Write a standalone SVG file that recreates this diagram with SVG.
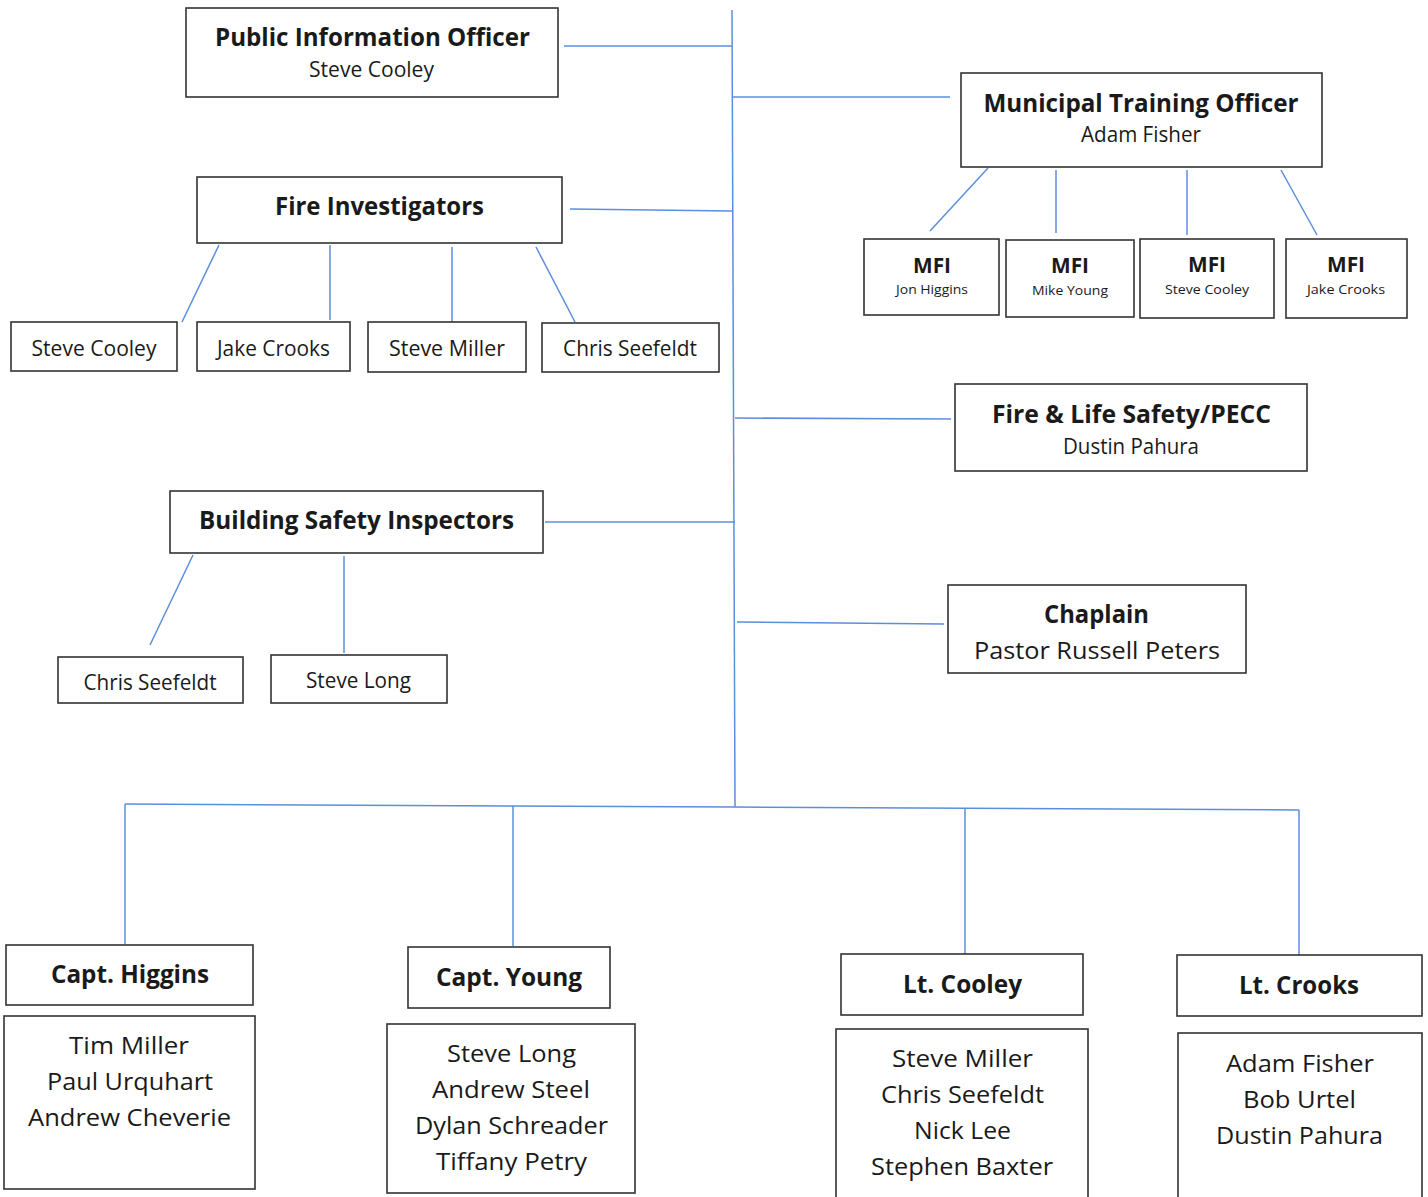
<svg xmlns="http://www.w3.org/2000/svg" width="1428" height="1197" viewBox="0 0 1428 1197">
<style>
.box{fill:#fff;stroke:#333;stroke-width:1.6}
.c{fill:none;stroke:#5a8fdc;stroke-width:1.5}
text{font-family:"Open Sans","Noto Sans","Liberation Sans",sans-serif;fill:#1a1a1a;text-anchor:middle}
.t{font-weight:bold;font-size:25px}
.s{font-size:21px}
.m{font-weight:bold;font-size:21px}
.n{font-size:13px}
.l{font-size:24px}
</style>
<rect width="1428" height="1197" fill="#fff"/>
<g id="connectors">
<path class="c" d="M732 10 L735 807"/>
<path class="c" d="M564 46 H732"/>
<path class="c" d="M732 97 H950"/>
<path class="c" d="M570 209 L732 211"/>
<path class="c" d="M735 418 L951 419"/>
<path class="c" d="M545 522 H735"/>
<path class="c" d="M737 622 L944 624"/>
<path class="c" d="M125 804 L735 807 L1299 810"/>
<path class="c" d="M125 804 V944"/>
<path class="c" d="M513 806 V946"/>
<path class="c" d="M965 808 V954"/>
<path class="c" d="M1299 810 V955"/>
<path class="c" d="M988 168 L930 231"/>
<path class="c" d="M1056 170 V233"/>
<path class="c" d="M1187 170 V235"/>
<path class="c" d="M1281 170 L1317 235"/>
<path class="c" d="M219 245 L182 322"/>
<path class="c" d="M330 245 V320"/>
<path class="c" d="M452 247 V322"/>
<path class="c" d="M536 247 L575 322"/>
<path class="c" d="M193 555 L150 645"/>
<path class="c" d="M344 556 V653"/>
</g>
<g id="pio"><rect class="box" x="186" y="8" width="372" height="89"/>
<text class="t" x="372.5" y="46" textLength="315" lengthAdjust="spacingAndGlyphs">Public Information Officer</text>
<text class="s" x="371.5" y="77" textLength="125" lengthAdjust="spacingAndGlyphs">Steve Cooley</text></g>
<g id="mto"><rect class="box" x="961" y="73" width="361" height="94"/>
<text class="t" x="1141" y="112" textLength="315" lengthAdjust="spacingAndGlyphs">Municipal Training Officer</text>
<text class="s" x="1141" y="142" textLength="120" lengthAdjust="spacingAndGlyphs">Adam Fisher</text></g>
<g id="mfi1"><rect class="box" x="864" y="239" width="135" height="76"/>
<text class="m" x="932" y="273" textLength="38" lengthAdjust="spacingAndGlyphs">MFI</text>
<text class="n" x="932" y="294" textLength="72" lengthAdjust="spacingAndGlyphs">Jon Higgins</text></g>
<g id="mfi2"><rect class="box" x="1006" y="240" width="128" height="77"/>
<text class="m" x="1070" y="273" textLength="38" lengthAdjust="spacingAndGlyphs">MFI</text>
<text class="n" x="1070" y="295" textLength="76" lengthAdjust="spacingAndGlyphs">Mike Young</text></g>
<g id="mfi3"><rect class="box" x="1140" y="239" width="134" height="79"/>
<text class="m" x="1207" y="272" textLength="38" lengthAdjust="spacingAndGlyphs">MFI</text>
<text class="n" x="1207" y="294" textLength="84" lengthAdjust="spacingAndGlyphs">Steve Cooley</text></g>
<g id="mfi4"><rect class="box" x="1286" y="239" width="121" height="79"/>
<text class="m" x="1346" y="272" textLength="38" lengthAdjust="spacingAndGlyphs">MFI</text>
<text class="n" x="1346" y="294" textLength="78" lengthAdjust="spacingAndGlyphs">Jake Crooks</text></g>
<g id="fi"><rect class="box" x="197" y="177" width="365" height="66"/>
<text class="t" x="379.5" y="215" textLength="209" lengthAdjust="spacingAndGlyphs">Fire Investigators</text></g>
<g id="fi1"><rect class="box" x="11" y="322" width="166" height="49"/>
<text class="s" x="94" y="356" textLength="125" lengthAdjust="spacingAndGlyphs">Steve Cooley</text></g>
<g id="fi2"><rect class="box" x="197" y="322" width="153" height="49"/>
<text class="s" x="273.5" y="356" textLength="113" lengthAdjust="spacingAndGlyphs">Jake Crooks</text></g>
<g id="fi3"><rect class="box" x="368" y="322" width="158" height="50"/>
<text class="s" x="447" y="356" textLength="116" lengthAdjust="spacingAndGlyphs">Steve Miller</text></g>
<g id="fi4"><rect class="box" x="542" y="323" width="177" height="49"/>
<text class="s" x="630" y="356" textLength="134" lengthAdjust="spacingAndGlyphs">Chris Seefeldt</text></g>
<g id="fls"><rect class="box" x="955" y="384" width="352" height="87"/>
<text class="t" x="1131.5" y="423" textLength="279" lengthAdjust="spacingAndGlyphs">Fire &amp; Life Safety/PECC</text>
<text class="s" x="1131" y="454" textLength="136" lengthAdjust="spacingAndGlyphs">Dustin Pahura</text></g>
<g id="bsi"><rect class="box" x="170" y="491" width="373" height="62"/>
<text class="t" x="356.5" y="529" textLength="315" lengthAdjust="spacingAndGlyphs">Building Safety Inspectors</text></g>
<g id="bsi1"><rect class="box" x="58" y="657" width="185" height="46"/>
<text class="s" x="150" y="690" textLength="133" lengthAdjust="spacingAndGlyphs">Chris Seefeldt</text></g>
<g id="bsi2"><rect class="box" x="271" y="655" width="176" height="48"/>
<text class="s" x="358.5" y="688" textLength="105" lengthAdjust="spacingAndGlyphs">Steve Long</text></g>
<g id="chaplain"><rect class="box" x="948" y="585" width="298" height="88"/>
<text class="t" x="1096.5" y="623" textLength="105" lengthAdjust="spacingAndGlyphs">Chaplain</text>
<text class="l" x="1097" y="659" textLength="246" lengthAdjust="spacingAndGlyphs">Pastor Russell Peters</text></g>
<g id="higgins"><rect class="box" x="6" y="945" width="247" height="60"/>
<text class="t" x="130" y="983" textLength="158" lengthAdjust="spacingAndGlyphs">Capt. Higgins</text>
<rect class="box" x="4" y="1016" width="251" height="173"/>
<text class="l" x="129" y="1054" textLength="120" lengthAdjust="spacingAndGlyphs">Tim Miller</text>
<text class="l" x="130" y="1090" textLength="166" lengthAdjust="spacingAndGlyphs">Paul Urquhart</text>
<text class="l" x="129.5" y="1126" textLength="203" lengthAdjust="spacingAndGlyphs">Andrew Cheverie</text></g>
<g id="young"><rect class="box" x="408" y="947" width="202" height="61"/>
<text class="t" x="509" y="986" textLength="146" lengthAdjust="spacingAndGlyphs">Capt. Young</text>
<rect class="box" x="387" y="1024" width="248" height="169"/>
<text class="l" x="511.5" y="1062" textLength="129" lengthAdjust="spacingAndGlyphs">Steve Long</text>
<text class="l" x="511" y="1098" textLength="158" lengthAdjust="spacingAndGlyphs">Andrew Steel</text>
<text class="l" x="511.5" y="1134" textLength="193" lengthAdjust="spacingAndGlyphs">Dylan Schreader</text>
<text class="l" x="511.5" y="1170" textLength="151" lengthAdjust="spacingAndGlyphs">Tiffany Petry</text></g>
<g id="cooley"><rect class="box" x="841" y="954" width="242" height="61"/>
<text class="t" x="962.5" y="993" textLength="119" lengthAdjust="spacingAndGlyphs">Lt. Cooley</text>
<rect class="box" x="836" y="1029" width="252" height="180"/>
<text class="l" x="962.5" y="1067" textLength="141" lengthAdjust="spacingAndGlyphs">Steve Miller</text>
<text class="l" x="962.5" y="1103" textLength="163" lengthAdjust="spacingAndGlyphs">Chris Seefeldt</text>
<text class="l" x="962.5" y="1139" textLength="97" lengthAdjust="spacingAndGlyphs">Nick Lee</text>
<text class="l" x="962" y="1175" textLength="182" lengthAdjust="spacingAndGlyphs">Stephen Baxter</text></g>
<g id="crooks"><rect class="box" x="1177" y="955" width="245" height="61"/>
<text class="t" x="1299" y="994" textLength="120" lengthAdjust="spacingAndGlyphs">Lt. Crooks</text>
<rect class="box" x="1178" y="1033" width="244" height="176"/>
<text class="l" x="1300" y="1072" textLength="148" lengthAdjust="spacingAndGlyphs">Adam Fisher</text>
<text class="l" x="1299.5" y="1108" textLength="113" lengthAdjust="spacingAndGlyphs">Bob Urtel</text>
<text class="l" x="1299.5" y="1144" textLength="167" lengthAdjust="spacingAndGlyphs">Dustin Pahura</text></g>
</svg>
